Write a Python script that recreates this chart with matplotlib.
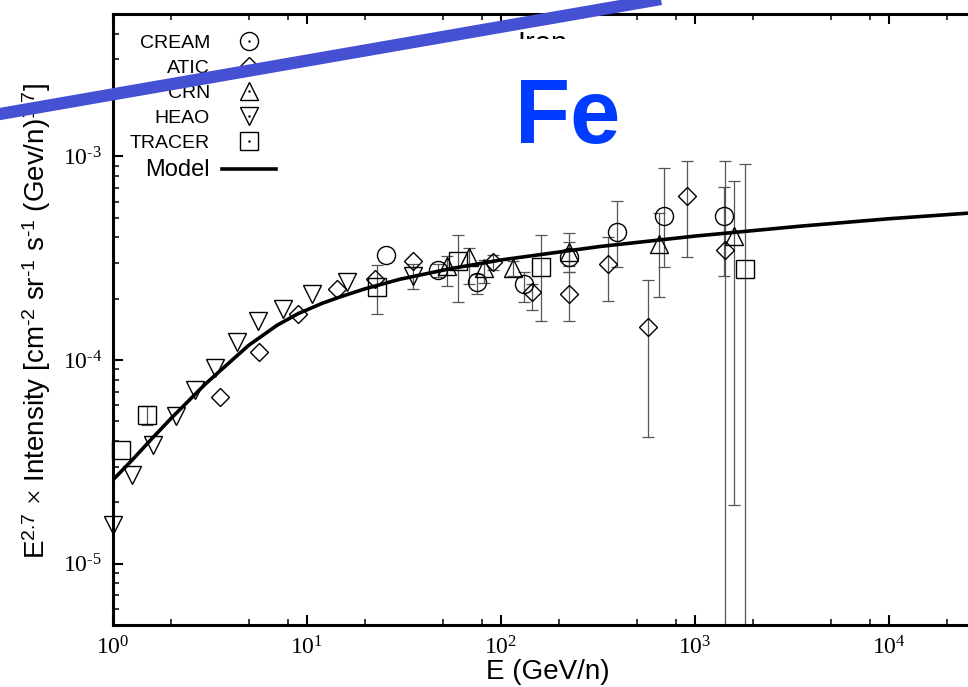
import numpy as np
import matplotlib
matplotlib.use("Agg")
import matplotlib.pyplot as plt
from matplotlib.lines import Line2D
from matplotlib.patches import Rectangle
from matplotlib.legend_handler import HandlerTuple
from matplotlib.ticker import LogLocator, FuncFormatter, NullFormatter

plt.rcParams['font.family'] = ['Liberation Sans', 'DejaVu Sans']
plt.rcParams['mathtext.fontset'] = 'custom'
plt.rcParams['mathtext.rm'] = 'Liberation Serif'
plt.rcParams['mathtext.sf'] = 'Liberation Sans'
plt.rcParams['mathtext.it'] = 'Liberation Serif:italic'
plt.rcParams['mathtext.bf'] = 'Liberation Serif:bold'

# data (E in GeV/n, E^2.7 x intensity), nan = no error bar, 1e-7 = bar runs off the bottom
cream_E = [25.5, 47.3, 75.2, 131, 224, 396, 692, 1410]
cream_I = [3.27e-4, 2.76e-4, 2.41e-4, 2.35e-4, 3.2e-4, 4.25e-4, 5.1e-4, 5.1e-4]
cream_lo = [np.nan, 2.55e-4, 2.1e-4, 1.92e-4, 2.7e-4, 2.86e-4, 2.86e-4, 2.58e-4]
cream_hi = [np.nan, 2.95e-4, 2.64e-4, 2.7e-4, 3.8e-4, 6.04e-4, 8.78e-4, 7.08e-4]

atic_E = [3.56, 5.66, 9.0, 14.3, 22.4, 35.2, 91, 144, 224, 356, 573, 910, 1428]
atic_I = [6.6e-5, 1.1e-4, 1.69e-4, 2.22e-4, 2.49e-4, 3.05e-4, 3.02e-4, 2.15e-4, 2.1e-4, 2.95e-4, 1.45e-4, 6.39e-4, 3.46e-4]
atic_lo = [np.nan, np.nan, np.nan, np.nan, np.nan, np.nan, 2.76e-4, 1.77e-4, 1.55e-4, 1.94e-4, 4.2e-5, 3.2e-4, 1e-7]
atic_hi = [np.nan, np.nan, np.nan, np.nan, np.nan, np.nan, 3.27e-4, 2.35e-4, 2.7e-4, 4.0e-4, 2.47e-4, 9.5e-4, 9.5e-4]

crn_E = [52.8, 68.4, 81.7, 115, 224, 652, 1589]
crn_I = [2.89e-4, 3.2e-4, 2.82e-4, 2.82e-4, 3.39e-4, 3.71e-4, 4.06e-4]
crn_lo = [2.32e-4, 2.35e-4, 2.4e-4, 2.6e-4, 2.9e-4, 2.03e-4, 1.94e-5]
crn_hi = [3.24e-4, 3.54e-4, 3.1e-4, 3.05e-4, 4.2e-4, 5.27e-4, 7.57e-4]

heao_E = [1.0, 1.25, 1.61, 2.11, 2.65, 3.36, 4.36, 5.59, 7.52, 10.6, 16.1, 35.2]
heao_I = [1.55e-5, 2.73e-5, 3.84e-5, 5.33e-5, 7.16e-5, 9.18e-5, 1.22e-4, 1.55e-4, 1.78e-4, 2.1e-4, 2.41e-4, 2.58e-4]
heao_lo = [np.nan] * 11 + [2.22e-4]
heao_hi = [np.nan] * 11 + [2.95e-4]

tracer_E = [1.1, 1.5, 22.9, 60, 161, 1811]
tracer_I = [3.62e-5, 5.4e-5, 2.28e-4, 3.05e-4, 2.86e-4, 2.79e-4]
tracer_lo = [np.nan, 4.79e-5, 1.68e-4, 1.92e-4, 1.56e-4, 1e-7]
tracer_hi = [np.nan, 5.97e-5, 2.92e-4, 4.1e-4, 4.1e-4, 9.18e-4]

model_E = [1, 1.26, 1.59, 2, 3, 5, 7, 9, 12, 15, 20, 30, 55, 100, 324, 1000, 3480, 10000, 25500, 100000]
model_I = [2.58e-5, 3.24e-5, 4.12e-5, 5.19e-5, 7.64e-5, 1.18e-4, 1.48e-4, 1.69e-4, 1.90e-4, 2.05e-4,
           2.24e-4, 2.49e-4, 2.81e-4, 3.10e-4, 3.61e-4, 4.06e-4, 4.54e-4, 4.94e-4, 5.26e-4, 5.62e-4]

W, H = 968, 687
fig = plt.figure(figsize=(W / 100, H / 100), dpi=100)

def fx(x):
    return x / W

def fy(y):
    return 1 - y / H

ax = fig.add_axes([fx(113), fy(625), (1083 - 113) / W, 611 / H])
ax.set_xscale('log')
ax.set_yscale('log')
ax.set_xlim(1, 1e5)
ax.set_ylim(5e-6, 5e-3)

def draw(E, I, lo, hi, marker, ms):
    E = np.array(E); I = np.array(I)
    lo = np.array(lo, float); hi = np.array(hi, float)
    m = ~np.isnan(lo)
    if m.any():
        ax.errorbar(E[m], I[m], yerr=[I[m] - lo[m], hi[m] - I[m]], fmt='none',
                    ecolor='#555555', elinewidth=0.9, capsize=4.5, capthick=0.9, zorder=2)
    ax.plot(E, I, ls='none', marker=marker, ms=ms, mfc='none', mec='black', mew=1.0,
            zorder=3, clip_on=False)

draw(cream_E, cream_I, cream_lo, cream_hi, 'o', 13)
draw(atic_E, atic_I, atic_lo, atic_hi, 'D', 9.2)
draw(crn_E, crn_I, crn_lo, crn_hi, '^', 13)
draw(heao_E, heao_I, heao_lo, heao_hi, 'v', 13)
draw(tracer_E, tracer_I, tracer_lo, tracer_hi, 's', 12.5)
ax.plot(model_E, model_I, color='black', lw=2.6, zorder=4)

# ticks
for s in ax.spines.values():
    s.set_linewidth(2.2)
ax.xaxis.set_major_locator(LogLocator(base=10, numticks=20))
ax.xaxis.set_minor_locator(LogLocator(base=10, subs=(2, 5, 8), numticks=20))
ax.yaxis.set_major_locator(LogLocator(base=10, numticks=20))
ax.yaxis.set_minor_locator(LogLocator(base=10, subs=np.arange(2, 10), numticks=20))

def decade(v, p):
    n = int(round(np.log10(v)))
    if n > 4:  # beyond the picture's right edge
        return ''
    return r'$\mathrm{10^{%s}}$' % str(n).replace('-', '\u2010')

fmt = FuncFormatter(decade)
ax.xaxis.set_major_formatter(fmt)
ax.yaxis.set_major_formatter(fmt)
ax.xaxis.set_minor_formatter(NullFormatter())
ax.yaxis.set_minor_formatter(NullFormatter())
ax.tick_params(which='both', direction='in', top=True, right=True)
ax.tick_params(which='major', length=7, width=1.5, labelsize=17)
ax.tick_params(which='minor', length=4, width=1.1)
ax.tick_params(axis='y', which='major', pad=8)
ax.tick_params(axis='x', which='major', pad=8)

hy = '\u2010'
fig.text(fx(37), fy(321),
         r'E$^{\mathsf{2.7}}$ $\times$ Intensity [cm$^{\mathsf{' + hy + r'2}}$ sr$^{\mathsf{' + hy
         + r'1}}$ s$^{\mathsf{' + hy + r'1}}$ (Gev/n)$^{\mathsf{1.7}}$]',
         rotation=90, ha='center', va='center', fontsize=20)
fig.text(fx(548), fy(672), 'E (GeV/n)', ha='center', va='center', fontsize=20)

# legend
def mk(marker, ms):
    return (Line2D([], [], ls='none', marker=marker, ms=ms, mfc='none', mec='black', mew=1.0),
            Line2D([], [], ls='none', marker='.', ms=1.5, color='black'))

handles = [mk('o', 13), mk('D', 9.2), mk('^', 13), mk('v', 13), mk('s', 12.5),
           Line2D([], [], color='black', lw=2.6)]
labels = ['CREAM', 'ATIC', 'CRN', 'HEAO', 'TRACER', 'Model']
leg = ax.legend(handles, labels, handler_map={tuple: HandlerTuple(ndivide=1, pad=0)},
                loc='upper right', bbox_to_anchor=(fx(276), fy(34)), bbox_transform=fig.transFigure,
                frameon=False, markerfirst=False, numpoints=1, fontsize=14,
                handlelength=2.78, handletextpad=0.62, labelspacing=0.38,
                borderpad=0, borderaxespad=0)
leg.get_texts()[5].set_fontsize(17)

# overlay: "Iron" title partly hidden by white box with "Fe"
fig.text(fx(542), fy(30), 'Iron', ha='center', va='top', fontsize=21)
fig.add_artist(Rectangle((fx(500), fy(152)), (660 - 500) / W, (152 - 39) / H,
                         transform=fig.transFigure, facecolor='white', edgecolor='none', zorder=5))
fig.text(fx(515), fy(143), 'Fe', ha='left', va='baseline', fontsize=65,
         fontweight='bold', color='#003cff', zorder=6)
fig.add_artist(Line2D([fx(-10), fx(800)], [fy(114 + 0.174 * 10), fy(114 - 0.174 * 800)],
                      transform=fig.transFigure, color='#4650d2', lw=8.8,
                      solid_capstyle='butt', zorder=7))

fig.savefig('out.png', dpi=100)
